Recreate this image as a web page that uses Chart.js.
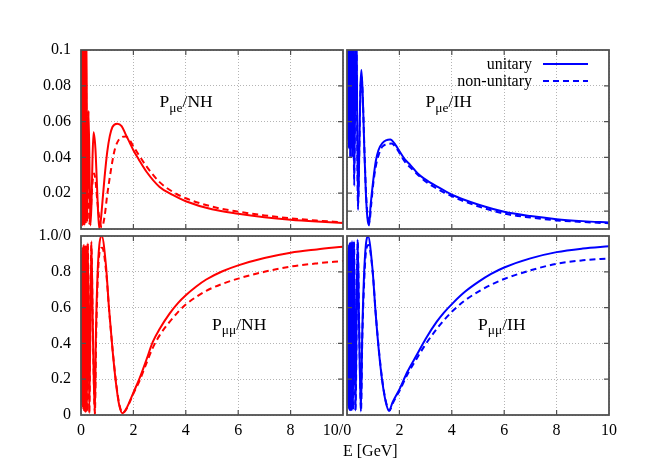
<!DOCTYPE html>
<html><head><meta charset="utf-8">
<script src="https://cdn.jsdelivr.net/npm/chart.js@4.4.1/dist/chart.umd.min.js"></script>
<style>
html,body{margin:0;padding:0;background:#fff;}
#wrap{position:relative;width:664px;height:465px;overflow:hidden;background:#fff;}
canvas{position:absolute;left:0;top:0;}
</style></head><body>
<div id="wrap">
<canvas id="tl" width="664" height="465"></canvas>
<canvas id="tr" width="664" height="465"></canvas>
<canvas id="bl" width="664" height="465"></canvas>
<canvas id="br" width="664" height="465"></canvas>
</div>
<script>
// ---------- tick values and labels ----------
const xTicks = [0, 2, 4, 6, 8, 10];
const xLabelsLeft = ['0', '2', '4', '6', '8', '10/0   '];
const xLabelsRight = ['', '2', '4', '6', '8', '10'];
const yTicksMue = [0, 0.02, 0.04, 0.06, 0.08, 0.1];
const yTicksMueIH = [0, 0.01, 0.02, 0.04, 0.06, 0.08, 0.1];
const yLabelsMue = ['', '0.02', '0.04', '0.06', '0.08', '0.1'];
const yTicksMumu = [0, 0.2, 0.4, 0.6, 0.8, 1.0];
const yLabelsMumu = ['0', '0.2', '0.4', '0.6', '0.8', '1.0/0'];
const seriesNames = ['unitary', 'non-unitary'];

// ---------- series: [E (GeV), probability] ----------
const nhMueUnitary = [[0.035,0.002],[0.04,0.12],[0.045,0.005],[0.05,0.11],[0.055,0.003],[0.06,0.12],[0.063,0.004],[0.066,0.10],[0.07,0.002],[0.074,0.12],[0.078,0.005],[0.083,0.10],[0.088,0.003],[0.095,0.12],[0.102,0.006],[0.11,0.095],[0.12,0.002],[0.13,0.11],[0.145,0.005],[0.16,0.09],[0.18,0.003],[0.205,0.12],[0.24,0.004],[0.29,0.066],[0.36,0.002],[0.40,0.014],[0.44,0.040],[0.48,0.054],[0.55,0.045],[0.60,0.028],[0.65,0.010],[0.70,0.0],[0.75,0.004],[0.80,0.012],[0.90,0.029],[1.00,0.043],[1.10,0.052],[1.20,0.057],[1.38,0.0588],[1.55,0.0575],[1.70,0.053],[1.85,0.0485],[2.00,0.044],[2.20,0.039],[2.50,0.032],[3.00,0.0235],[3.50,0.019],[4.00,0.0155],[5.00,0.011],[6.00,0.0085],[7.00,0.0066],[8.00,0.0052],[9.00,0.0042],[10.0,0.0034]];
const nhMueNonUnitary = [[0.037,0.004],[0.042,0.11],[0.047,0.003],[0.052,0.12],[0.057,0.005],[0.062,0.10],[0.068,0.003],[0.072,0.11],[0.076,0.004],[0.081,0.12],[0.086,0.003],[0.092,0.10],[0.099,0.005],[0.106,0.11],[0.115,0.003],[0.125,0.10],[0.137,0.004],[0.152,0.085],[0.17,0.003],[0.19,0.09],[0.22,0.004],[0.26,0.06],[0.32,0.003],[0.38,0.012],[0.44,0.026],[0.50,0.031],[0.56,0.026],[0.62,0.016],[0.70,0.006],[0.80,0.001],[0.90,0.007],[1.00,0.019],[1.10,0.029],[1.20,0.038],[1.30,0.045],[1.45,0.050],[1.70,0.0517],[1.85,0.0498],[2.00,0.0462],[2.20,0.0415],[2.50,0.035],[3.00,0.0262],[3.50,0.0208],[4.00,0.0172],[5.00,0.0125],[6.00,0.0097],[7.00,0.0076],[8.00,0.006],[9.00,0.0047],[10.0,0.0038]];
const ihMueUnitary = [[0.037,0.15],[0.041,0.05],[0.045,0.16],[0.049,0.05],[0.053,0.17],[0.058,0.05],[0.063,0.16],[0.069,0.045],[0.075,0.17],[0.082,0.05],[0.09,0.16],[0.098,0.045],[0.108,0.17],[0.12,0.04],[0.135,0.16],[0.15,0.045],[0.17,0.15],[0.195,0.04],[0.23,0.14],[0.275,0.024],[0.35,0.13],[0.42,0.0106],[0.47,0.045],[0.51,0.078],[0.55,0.0888],[0.60,0.075],[0.66,0.045],[0.72,0.02],[0.78,0.006],[0.84,0.002],[0.90,0.013],[1.00,0.027],[1.10,0.038],[1.20,0.044],[1.35,0.048],[1.65,0.050],[1.85,0.047],[2.00,0.0435],[2.20,0.039],[2.42,0.0357],[2.70,0.031],[2.93,0.0283],[3.50,0.0232],[4.00,0.0192],[4.50,0.0162],[5.00,0.0137],[6.00,0.0096],[7.00,0.0072],[8.00,0.0055],[9.00,0.0044],[10.0,0.0036]];
const ihMueNonUnitary = [[0.036,0.14],[0.04,0.055],[0.044,0.15],[0.048,0.05],[0.052,0.16],[0.057,0.055],[0.062,0.15],[0.068,0.05],[0.074,0.16],[0.081,0.055],[0.089,0.15],[0.097,0.05],[0.107,0.16],[0.119,0.045],[0.133,0.15],[0.149,0.05],[0.168,0.14],[0.193,0.045],[0.228,0.13],[0.272,0.028],[0.345,0.12],[0.42,0.013],[0.47,0.044],[0.51,0.075],[0.555,0.085],[0.61,0.07],[0.67,0.042],[0.73,0.019],[0.79,0.007],[0.855,0.004],[0.92,0.013],[1.00,0.025],[1.10,0.035],[1.20,0.041],[1.35,0.046],[1.70,0.0477],[1.90,0.0448],[2.00,0.0425],[2.20,0.0378],[2.50,0.0332],[3.00,0.0265],[3.50,0.022],[4.00,0.0183],[5.00,0.0127],[6.00,0.0086],[7.00,0.0064],[8.00,0.0048],[9.00,0.0039],[10.0,0.0032]];
const nhMumuUnitary = [[0.035,0.1],[0.04,0.86],[0.042,0.08],[0.045,0.9],[0.047,0.1],[0.05,0.88],[0.052,0.06],[0.055,0.92],[0.057,0.08],[0.06,0.9],[0.063,0.05],[0.066,0.93],[0.069,0.06],[0.072,0.9],[0.075,0.04],[0.079,0.94],[0.083,0.05],[0.088,0.92],[0.093,0.03],[0.099,0.95],[0.105,0.04],[0.113,0.93],[0.122,0.02],[0.132,0.95],[0.144,0.03],[0.158,0.94],[0.176,0.015],[0.198,0.95],[0.226,0.02],[0.263,0.96],[0.316,0.01],[0.395,0.97],[0.45,0.5],[0.527,0.0],[0.57,0.46],[0.63,0.78],[0.70,0.95],[0.79,1.0],[0.95,0.84],[1.07,0.594],[1.20,0.37],[1.33,0.184],[1.46,0.054],[1.58,0.01],[1.70,0.028],[1.85,0.073],[2.00,0.125],[2.23,0.203],[2.50,0.31],[2.74,0.408],[3.00,0.48],[3.38,0.566],[3.70,0.625],[4.00,0.669],[4.40,0.718],[4.78,0.757],[5.40,0.803],[6.00,0.836],[7.00,0.877],[8.00,0.907],[9.00,0.925],[10.0,0.94]];
const nhMumuNonUnitary = [[0.037,0.12],[0.041,0.84],[0.044,0.1],[0.047,0.88],[0.05,0.08],[0.053,0.9],[0.056,0.07],[0.059,0.88],[0.062,0.06],[0.065,0.91],[0.068,0.06],[0.071,0.88],[0.074,0.05],[0.078,0.92],[0.082,0.05],[0.087,0.9],[0.092,0.04],[0.098,0.93],[0.104,0.04],[0.112,0.91],[0.121,0.03],[0.131,0.93],[0.143,0.03],[0.157,0.92],[0.175,0.02],[0.197,0.93],[0.225,0.02],[0.262,0.94],[0.315,0.015],[0.395,0.95],[0.45,0.5],[0.53,0.01],[0.58,0.45],[0.64,0.76],[0.71,0.91],[0.81,0.935],[0.96,0.80],[1.08,0.575],[1.21,0.36],[1.34,0.18],[1.47,0.054],[1.60,0.012],[1.72,0.03],[1.87,0.075],[2.00,0.12],[2.23,0.19],[2.50,0.29],[2.74,0.375],[3.00,0.445],[3.38,0.52],[3.70,0.575],[4.00,0.617],[4.40,0.66],[4.78,0.694],[5.40,0.733],[6.00,0.762],[7.00,0.80],[8.00,0.829],[9.00,0.847],[10.0,0.86]];
const ihMumuUnitary = [[0.035,0.1],[0.039,0.88],[0.042,0.07],[0.045,0.9],[0.048,0.06],[0.051,0.91],[0.054,0.05],[0.057,0.92],[0.06,0.05],[0.064,0.93],[0.067,0.04],[0.071,0.94],[0.075,0.04],[0.079,0.95],[0.084,0.03],[0.089,0.95],[0.094,0.03],[0.10,0.96],[0.107,0.03],[0.115,0.96],[0.124,0.025],[0.134,0.96],[0.147,0.03],[0.16,0.97],[0.179,0.03],[0.20,0.97],[0.23,0.03],[0.268,0.97],[0.322,0.025],[0.405,0.98],[0.46,0.5],[0.53,0.02],[0.58,0.44],[0.65,0.78],[0.72,0.95],[0.80,1.0],[0.97,0.82],[1.09,0.575],[1.22,0.352],[1.35,0.184],[1.48,0.073],[1.60,0.024],[1.75,0.075],[2.02,0.149],[2.30,0.24],[2.66,0.335],[3.00,0.425],[3.42,0.52],[3.70,0.572],[4.06,0.628],[4.50,0.688],[5.00,0.742],[5.50,0.788],[6.00,0.824],[7.00,0.875],[8.00,0.91],[9.00,0.93],[10.0,0.943]];
const ihMumuNonUnitary = [[0.036,0.12],[0.04,0.86],[0.043,0.08],[0.046,0.88],[0.049,0.07],[0.052,0.9],[0.055,0.06],[0.058,0.9],[0.061,0.05],[0.065,0.92],[0.068,0.05],[0.072,0.92],[0.076,0.04],[0.08,0.93],[0.085,0.04],[0.09,0.94],[0.095,0.035],[0.101,0.94],[0.108,0.03],[0.116,0.95],[0.125,0.03],[0.135,0.95],[0.148,0.03],[0.162,0.96],[0.18,0.03],[0.202,0.96],[0.232,0.03],[0.27,0.96],[0.325,0.03],[0.408,0.97],[0.465,0.5],[0.535,0.025],[0.585,0.43],[0.66,0.76],[0.73,0.92],[0.82,0.95],[0.98,0.80],[1.10,0.56],[1.23,0.345],[1.36,0.18],[1.49,0.072],[1.62,0.024],[1.76,0.07],[2.02,0.14],[2.30,0.225],[2.66,0.315],[3.00,0.395],[3.42,0.48],[3.70,0.53],[4.06,0.585],[4.50,0.64],[5.00,0.688],[5.50,0.728],[6.00,0.76],[7.00,0.808],[8.00,0.845],[9.00,0.864],[10.0,0.875]];

// ---------- styling ----------
const FONT = "'Liberation Serif', 'Times New Roman', serif";
const RED = '#ff0000', BLUE = '#0000ff';
const FRAME = '#505050', GRID = '#b4b4b4';
Chart.defaults.font.family = FONT;
Chart.defaults.font.size = 16;
Chart.defaults.color = '#000';

const panelPlugin = {
  id: 'panelDeco',
  afterDraw(chart, args, o) {
    const ctx = chart.ctx, a = chart.chartArea;
    const xs = chart.scales.x, ys = chart.scales.y;
    ctx.save();
    // inward tick marks on all four sides
    ctx.strokeStyle = FRAME; ctx.lineWidth = 1.2; ctx.setLineDash([]);
    const L = 5;
    ctx.beginPath();
    xs.ticks.forEach(t => {
      const px = xs.getPixelForValue(t.value);
      if (px <= a.left + 1 || px >= a.right - 1) return;
      ctx.moveTo(px, a.bottom); ctx.lineTo(px, a.bottom - L);
      ctx.moveTo(px, a.top); ctx.lineTo(px, a.top + L);
    });
    ys.ticks.forEach(t => {
      const py = ys.getPixelForValue(t.value);
      if (py <= a.top + 1 || py >= a.bottom - 1) return;
      ctx.moveTo(a.left, py); ctx.lineTo(a.left + L, py);
      ctx.moveTo(a.right, py); ctx.lineTo(a.right - L, py);
    });
    ctx.stroke();
    // frame
    ctx.lineWidth = 1.8;
    ctx.strokeRect(a.left, a.top, a.right - a.left, a.bottom - a.top);
    // panel label  P_sub/rest
    const lx = xs.getPixelForValue(o.labelAt[0]), ly = ys.getPixelForValue(o.labelAt[1]);
    ctx.fillStyle = '#000'; ctx.textAlign = 'left'; ctx.textBaseline = 'alphabetic';
    ctx.font = '17.5px ' + FONT;
    ctx.fillText('P', lx, ly);
    let x = lx + ctx.measureText('P').width;
    ctx.font = '13.5px ' + FONT;
    ctx.fillText(o.sub, x, ly + 4.5);
    x += ctx.measureText(o.sub).width;
    ctx.font = '17.5px ' + FONT;
    ctx.fillText(o.rest, x, ly);
    // legend
    if (o.legend) {
      chart.data.datasets.forEach((ds, i) => {
        const yy = a.top + 14 + i * 17;
        ctx.font = '16px ' + FONT; ctx.textAlign = 'right'; ctx.fillStyle = '#000';
        ctx.fillText(ds.label, a.right - 77, yy + 5);
        ctx.strokeStyle = ds.borderColor; ctx.lineWidth = 2;
        ctx.setLineDash(ds.borderDash || []);
        ctx.beginPath(); ctx.moveTo(a.right - 66, yy); ctx.lineTo(a.right - 21, yy); ctx.stroke();
        ctx.setLineDash([]);
      });
    }
    if (o.axisTitle) {
      ctx.font = '16px ' + FONT; ctx.textAlign = 'left'; ctx.fillStyle = '#000';
      ctx.fillText(o.axisTitle, a.right, a.bottom + 41);
    }
    ctx.restore();
  }
};

function panel(id, o) {
  const datasets = o.series.map((s, i) => ({
    label: seriesNames[i],
    data: s.map(p => ({x: p[0], y: p[1]})),
    borderColor: o.color, borderWidth: 2,
    borderDash: i === 1 ? [6, 4] : [],
    pointRadius: 0, fill: false, cubicInterpolationMode: 'monotone'
  }));
  return new Chart(document.getElementById(id), {
    type: 'line',
    data: {datasets},
    options: {
      responsive: false, animation: false, events: [], devicePixelRatio: 1,
      layout: {padding: {left: o.padLeft, top: o.top, right: 664 - o.right, bottom: o.padBottom}},
      plugins: {
        legend: {display: false}, tooltip: {enabled: false},
        panelDeco: {labelAt: o.labelAt, sub: o.sub, rest: o.rest, legend: !!o.legend, axisTitle: o.axisTitle}
      },
      scales: {
        x: {
          type: 'linear', min: 0, max: 10,
          afterBuildTicks: s => { s.ticks = xTicks.map(v => ({value: v})); },
          ticks: {display: !!o.xLabels, padding: 6, autoSkip: false, maxRotation: 0,
                  callback: v => o.xLabels ? o.xLabels[xTicks.indexOf(v)] : ''},
          grid: {color: GRID, lineWidth: 1, drawTicks: false},
          border: {display: false, dash: [1, 2]},
          afterFit: s => { s.height = o.xLabels ? 50 : 0; }
        },
        y: {
          type: 'linear', min: o.yTicks[0], max: o.yTicks[o.yTicks.length - 1],
          afterBuildTicks: s => { s.ticks = o.yTicks.map(v => ({value: v})); },
          ticks: {display: !!o.yLabels, padding: 10, autoSkip: false,
                  callback: v => o.yLabels ? o.yLabels[o.yTicks.indexOf(v)] : ''},
          grid: {color: GRID, lineWidth: 1, drawTicks: false},
          border: {display: false, dash: [1, 2]},
          afterFit: s => { s.width = o.yLabels ? 81 : 0; }
        }
      }
    },
    plugins: [panelPlugin]
  });
}

panel('tl', {series: [nhMueUnitary, nhMueNonUnitary], color: RED, padLeft: 0, top: 50, right: 343, padBottom: 465 - 229,
  yTicks: yTicksMue, yLabels: yLabelsMue, labelAt: [3.0, 0.068], sub: 'μe', rest: '/NH'});
panel('tr', {series: [ihMueUnitary, ihMueNonUnitary], color: BLUE, padLeft: 347, top: 50, right: 609, padBottom: 465 - 229,
  yTicks: yTicksMueIH, labelAt: [3.0, 0.068], sub: 'μe', rest: '/IH', legend: true});
panel('bl', {series: [nhMumuUnitary, nhMumuNonUnitary], color: RED, padLeft: 0, top: 236, right: 343, padBottom: 465 - 415 - 50,
  yTicks: yTicksMumu, yLabels: yLabelsMumu, xLabels: xLabelsLeft, labelAt: [5.0, 0.477], sub: 'μμ', rest: '/NH', axisTitle: 'E [GeV]'});
panel('br', {series: [ihMumuUnitary, ihMumuNonUnitary], color: BLUE, padLeft: 347, top: 236, right: 609, padBottom: 465 - 415 - 50,
  yTicks: yTicksMumu, xLabels: xLabelsRight, labelAt: [5.0, 0.477], sub: 'μμ', rest: '/IH'});
</script>
</body></html>
